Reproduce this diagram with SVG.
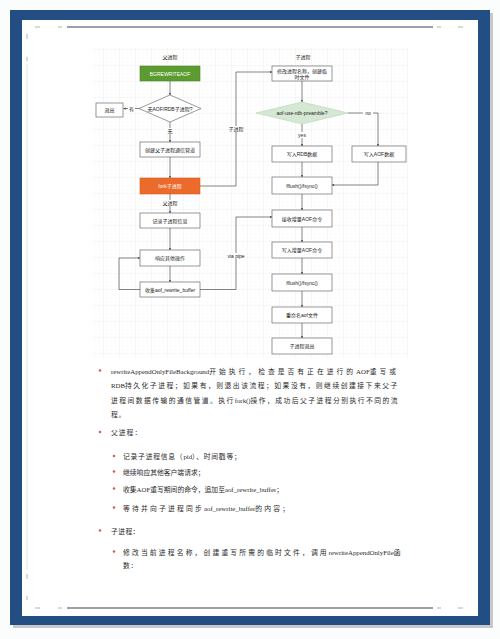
<svg xmlns="http://www.w3.org/2000/svg" width="500" height="639" viewBox="0 0 500 639">
<defs>
<pattern id="gmin" width="4" height="4" patternUnits="userSpaceOnUse" x="0" y="2">
<path d="M4 0V4M0 4H4" fill="none" stroke="#f6f6f6" stroke-width="0.5"/>
</pattern>
<pattern id="gmaj" width="16" height="16" patternUnits="userSpaceOnUse" x="8" y="2">
<path d="M16 0V16M0 16H16" fill="none" stroke="#e9e9e9" stroke-width="0.6"/>
</pattern>
<marker id="ah" viewBox="0 0 6 6" refX="5.5" refY="3" markerWidth="4.5" markerHeight="4.5" orient="auto">
<path d="M0 0.5L6 3L0 5.5L1.5 3z" fill="#333"/>
</marker>
<style>
.box{fill:#fff;stroke:#555;stroke-width:0.6}
.t{font-family:"Liberation Sans","Noto Sans CJK SC",sans-serif;font-size:5px;fill:#222;text-anchor:middle;dominant-baseline:central}
.tw{fill:#fff}
.lbl{font-family:"Liberation Sans","Noto Sans CJK SC",sans-serif;font-size:5px;fill:#222;text-anchor:middle;dominant-baseline:central}
.e{fill:none;stroke:#333;stroke-width:0.6;marker-end:url(#ah)}
.p{font-family:"Liberation Serif","Noto Sans CJK SC",serif;font-size:6.8px;fill:#2a2a2a}
.b{fill:#d0605a}
</style>
</defs>
<rect width="500" height="639" fill="#fbfcfc"/>
<rect x="13" y="13" width="480" height="615" fill="#c8c8cc"/>
<rect x="10" y="10" width="480" height="615" fill="#224e83"/>
<rect x="22" y="20" width="456" height="596" fill="#ffffff"/>
<g id="page-marks" stroke="#7a8290" fill="none">
<line x1="67" y1="27" x2="433" y2="27" stroke-width="1.4"/>
<line x1="67" y1="608" x2="433" y2="608" stroke-width="1.4"/>
<line x1="27" y1="64" x2="27" y2="570" stroke-width="0.5" stroke="#c4c8ce"/>
<path d="M35 27h5M58 27h4M437 27h4M458 27h5M35 608h5M58 608h4M437 608h4M458 608h5M27 34v5M27 57v4M27 574v5M27 596v4" stroke-width="0.8" stroke="#9aa0a8"/>
</g>
<rect x="93" y="47" width="315" height="311" fill="url(#gmin)"/>
<rect x="93" y="47" width="315" height="311" fill="url(#gmaj)"/>
<g id="headers">
<text class="t" x="170" y="57">父进程</text>
<text class="t" x="303" y="57">子进程</text>
</g>
<g id="connectors">
<path class="e" d="M170 81V95"/>
<path class="e" d="M139 108.5H123.5"/>
<path class="e" d="M170 122V142"/>
<path class="e" d="M170 157V178"/>
<path class="e" d="M170 194V213"/>
<path class="e" d="M170 228V250"/>
<path class="e" d="M170 266V282"/>
<path class="e" d="M140 289.5H119V258H140"/>
<path class="e" d="M200 186H236V72H272"/>
<path class="e" d="M200 289.5H236V217H272"/>
<path class="e" d="M302 81V102"/>
<path class="e" d="M302 124V146"/>
<path class="e" d="M348 113H378V146"/>
<path class="e" d="M302 162V177"/>
<path class="e" d="M378 162V185H332"/>
<path class="e" d="M302 194V210"/>
<path class="e" d="M302 227V242"/>
<path class="e" d="M302 258V274"/>
<path class="e" d="M302 291V307"/>
<path class="e" d="M302 323V338"/>
<g id="edge-labels">
<rect x="128" y="105" width="7" height="7" fill="#fff"/>
<text class="lbl" x="131.5" y="108.5">有</text>
<rect x="166" y="128" width="8" height="6" fill="#fff"/>
<text class="lbl" x="170" y="131">无</text>
<rect x="162" y="200" width="16" height="6" fill="#fff"/>
<text class="lbl" x="170" y="203">父进程</text>
<rect x="228" y="126" width="16" height="6" fill="#fff"/>
<text class="lbl" x="236" y="129">子进程</text>
<rect x="226" y="253" width="20" height="6" fill="#fff"/>
<text class="lbl" x="236" y="256">via pipe</text>
<rect x="363" y="110" width="10" height="6" fill="#fff"/>
<text class="lbl" x="368" y="113">no</text>
<rect x="296" y="132" width="12" height="6" fill="#fff"/>
<text class="lbl" x="302" y="135">yes</text>
</g>
</g>
<g id="n-bgrewriteaof"><rect x="140" y="66" width="60" height="15" fill="#5b9b2f" stroke="#4d8a26" stroke-width="0.6"/><text class="t tw" x="170" y="73.5">BGREWRITEAOF</text></g>
<g id="n-check"><path d="M170 95L201 108.5L170 122L139 108.5Z" class="box"/><text class="t" x="170" y="108.5">无AOF/RDB子进程?</text></g>
<g id="n-exit"><rect class="box" x="96" y="103" width="27" height="14"/><text class="t" x="109.5" y="110">退出</text></g>
<g id="n-pipe"><rect class="box" x="140" y="142" width="60" height="15"/><text class="t" x="170" y="149.5">创建父子进程通信管道</text></g>
<g id="n-fork"><rect x="140" y="178" width="60" height="16" fill="#ea6b2b" stroke="#d85e22" stroke-width="0.6"/><text class="t tw" x="170" y="186">fork子进程</text></g>
<g id="n-record"><rect class="box" x="140" y="213" width="60" height="15"/><text class="t" x="170" y="220.5">记录子进程信息</text></g>
<g id="n-respond"><rect class="box" x="140" y="250" width="60" height="16"/><text class="t" x="170" y="258">响应其他操作</text></g>
<g id="n-collect"><rect class="box" x="140" y="282" width="60" height="15"/><text class="t" x="170" y="289.5">收集aof_rewrite_buffer</text></g>
<g id="n-rename-proc"><rect class="box" x="272" y="66" width="60" height="15"/><text class="t" x="302" y="70.8">修改进程名称，创建临</text><text class="t" x="302" y="76.6">时文件</text></g>
<g id="n-preamble"><path d="M302 102L348 113L302 124L256 113Z" fill="#d5e8d4" stroke="#b7d3b2" stroke-width="0.6"/><text class="t" x="302" y="113">aof-use-rdb-preamble?</text></g>
<g id="n-write-rdb"><rect class="box" x="272" y="146" width="60" height="16"/><text class="t" x="302" y="154">写入RDB数据</text></g>
<g id="n-write-aof"><rect class="box" x="352" y="146" width="54" height="16"/><text class="t" x="379" y="154">写入AOF数据</text></g>
<g id="n-fsync1"><rect class="box" x="272" y="177" width="60" height="17"/><text class="t" x="302" y="185.5">fflush()/fsync()</text></g>
<g id="n-recv"><rect class="box" x="272" y="210" width="60" height="17"/><text class="t" x="302" y="218.5">接收增量AOF命令</text></g>
<g id="n-write-inc"><rect class="box" x="272" y="242" width="60" height="16"/><text class="t" x="302" y="250">写入增量AOF命令</text></g>
<g id="n-fsync2"><rect class="box" x="272" y="274" width="60" height="17"/><text class="t" x="302" y="282.5">fflush()/fsync()</text></g>
<g id="n-rename-file"><rect class="box" x="272" y="307" width="60" height="16"/><text class="t" x="302" y="315">重命名aof文件</text></g>
<g id="n-child-exit"><rect class="box" x="272" y="338" width="60" height="16"/><text class="t" x="302" y="346">子进程退出</text></g>
<g id="notes">
<circle class="b" cx="100" cy="370.5" r="1.3"/>
<text class="p" x="111" y="373.5">rewriteAppendOnlyFileBackground<tspan letter-spacing="3">开始执行，检查是否有正在进行的</tspan>AOF<tspan letter-spacing="3">重写或</tspan></text>
<text class="p" x="111" y="388">RDB<tspan letter-spacing="1.5">持久化子进程；如果有，则退出该流程；如果没有，则继续创建接下来父子</tspan></text>
<text class="p" x="111" y="402.5"><tspan letter-spacing="1.45">进程间数据传输的通信管道。执行</tspan>fork()<tspan letter-spacing="1.45">操作，成功后父子进程分别执行不同的流</tspan></text>
<text class="p" x="111" y="417" letter-spacing="0.6">程。</text>
<circle class="b" cx="100" cy="432" r="1.3"/>
<text class="p" x="111" y="435" letter-spacing="1">父进程：</text>
<circle class="b" cx="114" cy="456" r="1.3"/>
<text class="p" x="123" y="459"><tspan letter-spacing="0.75">记录子进程信息（</tspan>pid<tspan letter-spacing="0.75">）、时间戳等；</tspan></text>
<circle class="b" cx="114" cy="471.5" r="1.3"/>
<text class="p" x="123" y="474.5">继续响应其他客户端请求；</text>
<circle class="b" cx="114" cy="488.5" r="1.3"/>
<text class="p" x="123" y="491.5">收集AOF重写期间的命令，追加至aof_rewrite_buffer；</text>
<circle class="b" cx="114" cy="507.5" r="1.3"/>
<text class="p" x="123" y="510.5"><tspan letter-spacing="2.2">等待并向子进程同步</tspan>aof_rewrite_buffer<tspan letter-spacing="2.2">的内容；</tspan></text>
<circle class="b" cx="100" cy="530.5" r="1.3"/>
<text class="p" x="111" y="533.5" letter-spacing="0.4">子进程：</text>
<circle class="b" cx="114" cy="551.5" r="1.3"/>
<text class="p" x="123" y="554.5"><tspan letter-spacing="2.15">修改当前进程名称，创建重写所需的临时文件，调用</tspan>rewriteAppendOnlyFile<tspan letter-spacing="2.15">函</tspan></text>
<text class="p" x="123" y="568" letter-spacing="0.6">数：</text>
</g>
</svg>
